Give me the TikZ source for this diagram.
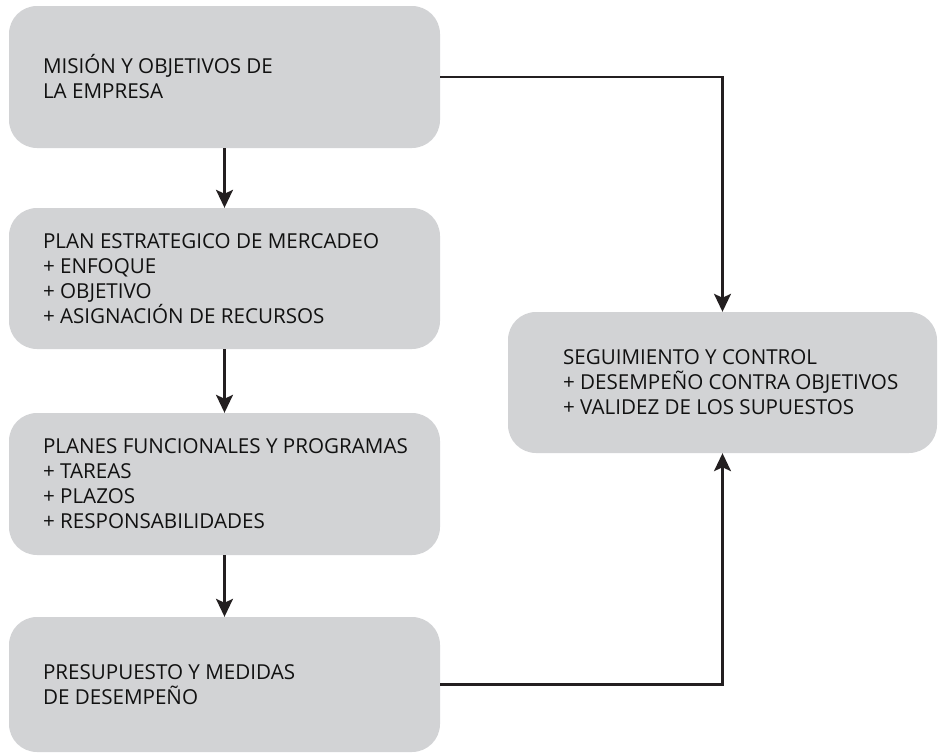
\documentclass[tikz,border=0pt]{standalone}
\usepackage{fontspec}
\setmainfont{Open Sans}
\usetikzlibrary{arrows.meta,positioning,calc}
\definecolor{boxgray}{HTML}{D2D3D5}
\definecolor{linedark}{HTML}{231F20}
\definecolor{txtdark}{HTML}{111111}
\begin{document}
\begin{tikzpicture}[x=1pt,y=-1pt,
  box/.style={fill=boxgray,draw=none,rounded corners=28pt,inner sep=0pt},
  lbl/.style={anchor=west,align=left,inner sep=0pt,text=txtdark,font=\fontsize{20.6}{25}\selectfont},
  conn/.style={draw=linedark,line width=2.2pt,-{Stealth[length=18pt,width=17pt,inset=4pt]}}]
\useasboundingbox (0,0) rectangle (938,755);
\node[box,minimum width=431pt,minimum height=142pt] (b1) at (224.5,77) {};
\node[box,minimum width=431pt,minimum height=141pt] (b2) at (224.5,278.5) {};
\node[box,minimum width=431pt,minimum height=142pt] (b3) at (224.5,484) {};
\node[box,minimum width=431pt,minimum height=135pt] (b4) at (224.5,684.5) {};
\node[box,minimum width=429pt,minimum height=141pt] (b5) at (722.5,382.5) {};
\node[lbl] (t1) at ($(b1.west)+(34,0)$) {MISIÓN Y OBJETIVOS DE\\LA EMPRESA};
\node[lbl] (t2) at ($(b2.west)+(34,0)$) {PLAN ESTRATEGICO DE MERCADEO\\+ ENFOQUE\\+ OBJETIVO\\+ ASIGNACIÓN DE RECURSOS};
\node[lbl] (t3) at ($(b3.west)+(34,0)$) {PLANES FUNCIONALES Y PROGRAMAS\\+ TAREAS\\+ PLAZOS\\+ RESPONSABILIDADES};
\node[lbl] (t4) at ($(b4.west)+(34,0)$) {PRESUPUESTO Y MEDIDAS\\DE DESEMPEÑO};
\node[lbl] (t5) at ($(b5.west)+(55,0)$) {SEGUIMIENTO Y CONTROL\\+ DESEMPEÑO CONTRA OBJETIVOS\\+ VALIDEZ DE LOS SUPUESTOS};
\draw[conn] (b1.south) -- (b2.north);
\draw[conn] (b2.south) -- (b3.north);
\draw[conn] (b3.south) -- (b4.north);
\draw[conn] (b1.east) -| (b5.north);
\draw[conn] (b4.east) -| (b5.south);
\end{tikzpicture}
\end{document}
